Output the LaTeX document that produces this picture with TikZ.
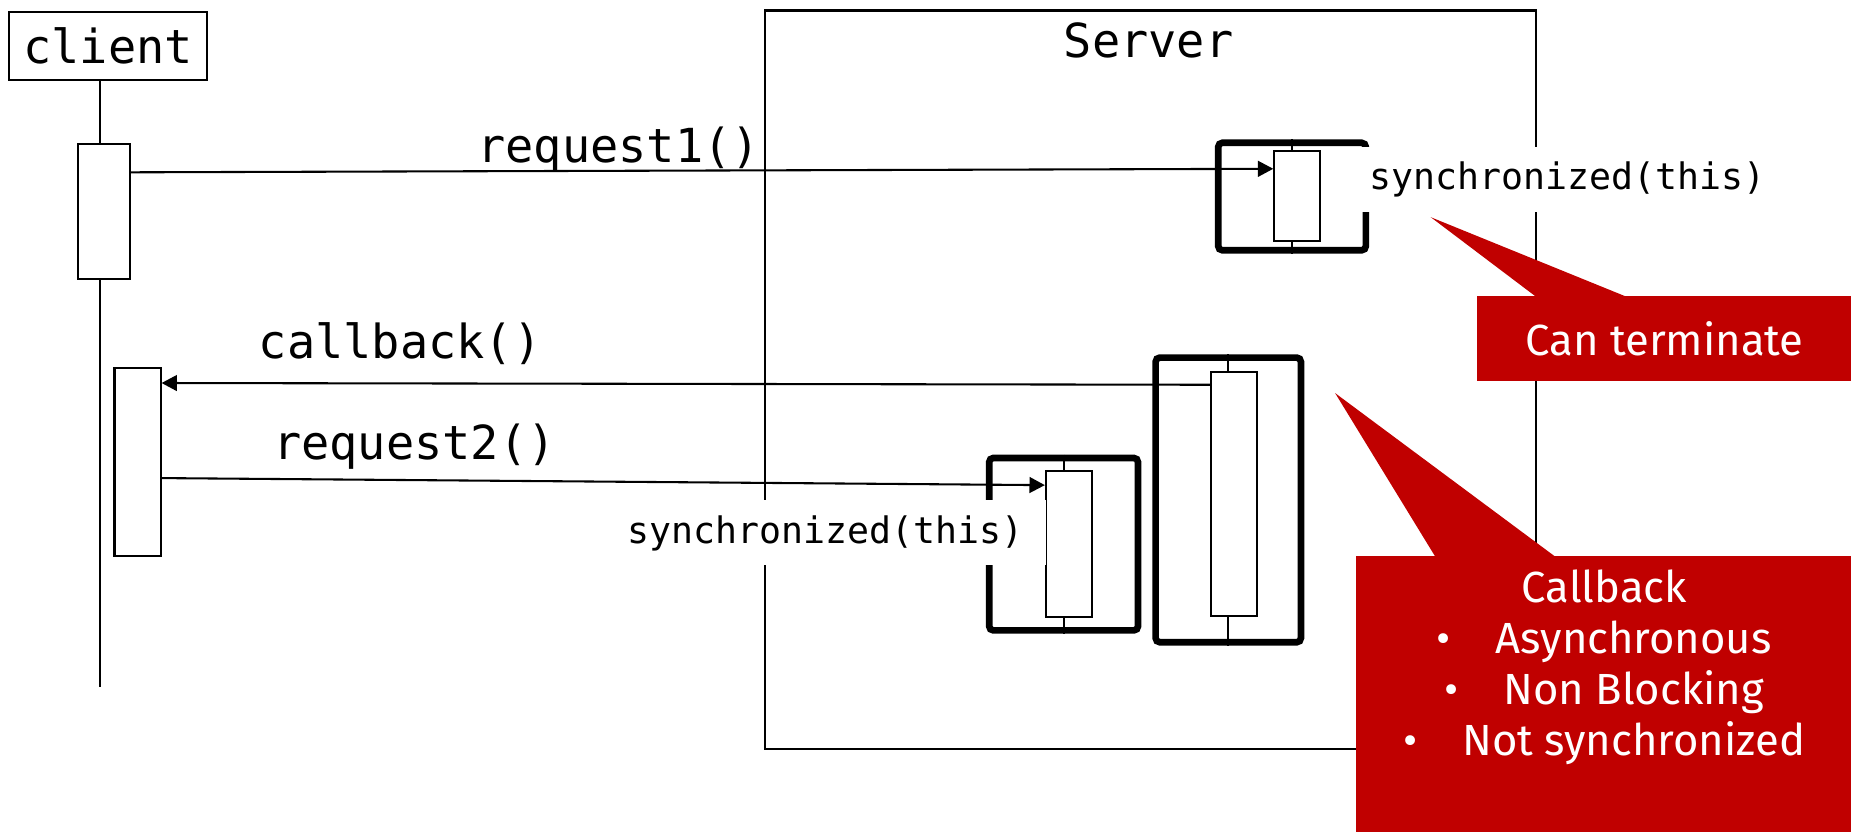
\documentclass[tikz,border=0pt]{standalone}
\usepackage{fontspec}
\newfontfamily\codefont{DejaVu Sans Mono}
\newfontfamily\notefont{Fira Sans}
\usetikzlibrary{arrows.meta}
\definecolor{noteRed}{RGB}{192,0,0}
\newcommand\notebullet{\textbullet\hspace{0.38cm}}

\begin{document}
\begin{tikzpicture}[x=0.01cm, y=-0.01cm, line width=0.5pt,
  every node/.style={inner sep=0pt},
  bigcode/.style={font=\codefont\fontsize{11.3}{13}\selectfont},
  smallcode/.style={font=\codefont\fontsize{8.8}{10}\selectfont, fill=white, inner xsep=0.19cm, minimum height=0.55cm},
  actbox/.style={draw, fill=white, minimum width=0.39cm},
  lockbox/.style={draw, line width=1.6pt, rounded corners=1pt},
  msg/.style={-{Triangle[length=3.7pt,width=3.8pt]}},
  note/.style={fill=noteRed, text=white, font=\notefont\fontsize{10.5}{12.3}\selectfont, align=center}]

\useasboundingbox (0,0) rectangle (1568,704);

% server frame
\node[draw, anchor=north west, minimum width=6.53cm, minimum height=6.25cm] (server) at (647,8) {};
\node[bigcode] (servername) at (973,34) {Server};

% client and its lifeline
\node[draw, bigcode, minimum width=1.67cm, minimum height=0.58cm] (client) at (91.5,39) {client};
\coordinate (clientend) at (85,582);
\draw (client.south -| clientend) -- (clientend);
\node[actbox, minimum width=0.44cm, minimum height=1.14cm] (call1) at (88,179) {};
\node[actbox, minimum height=1.59cm] (call2) at (116.5,391.5) {};

% locked sections on the server
\node[lockbox, minimum width=1.25cm, minimum height=0.91cm] (lock1) at (1094.5,166.5) {};
\node[lockbox, minimum width=1.26cm, minimum height=1.46cm] (lock2) at (901,461) {};
\node[lockbox, minimum width=1.23cm, minimum height=2.41cm] (lock3) at (1040.5,423.5) {};
\foreach \n in {1,2,3}
  \draw (lock\n.north) -- (lock\n.south);
\node[actbox, minimum height=0.76cm] (run1) at (1099,166) {};
\node[actbox, minimum height=1.24cm] (run2) at (905.5,461) {};
\node[actbox, minimum height=2.07cm] (run3) at (1045.5,418.5) {};

% messages
\draw[msg] ([yshift=0.33cm]call1.east) -- ([yshift=0.23cm]run1.west);
\draw[msg] ([yshift=0.925cm]run3.west) -- ([yshift=0.67cm]call2.east);
\draw[msg] ([yshift=-0.135cm]call2.east) -- ([yshift=0.5cm]run2.west);
\node[bigcode] (req1) at (524,127) {request1()};
\node[bigcode] (cb) at (339,291) {callback()};
\node[bigcode] (req2) at (351,378) {request2()};
\node[smallcode] (sync1) at (1328,152) {synchronized(this)};
\node[smallcode] (sync2) at (699,451.5) {synchronized(this)};

% notes
\node[note, anchor=north west, minimum width=3.18cm, minimum height=0.72cm] (term) at (1250,250) {Can terminate};
\coordinate (termtip) at (1212,184);
\fill[noteRed] ([xshift=0.54cm,yshift=-1pt]term.north west) -- (termtip) -- ([xshift=1.33cm,yshift=-1pt]term.north west) -- cycle;

\node[note, anchor=north west, minimum width=4.2cm, inner ysep=0.12cm, text depth=2.3cm] (async) at (1148,470)
  {Callback\\
   \notebullet Asynchronous\\
   \notebullet Non Blocking\\
   \notebullet Not synchronized};
\coordinate (asynctip) at (1131,333);
\fill[noteRed] ([xshift=0.69cm,yshift=-1pt]async.north west) -- (asynctip) -- ([xshift=1.72cm,yshift=-1pt]async.north west) -- cycle;
\end{tikzpicture}
\end{document}
